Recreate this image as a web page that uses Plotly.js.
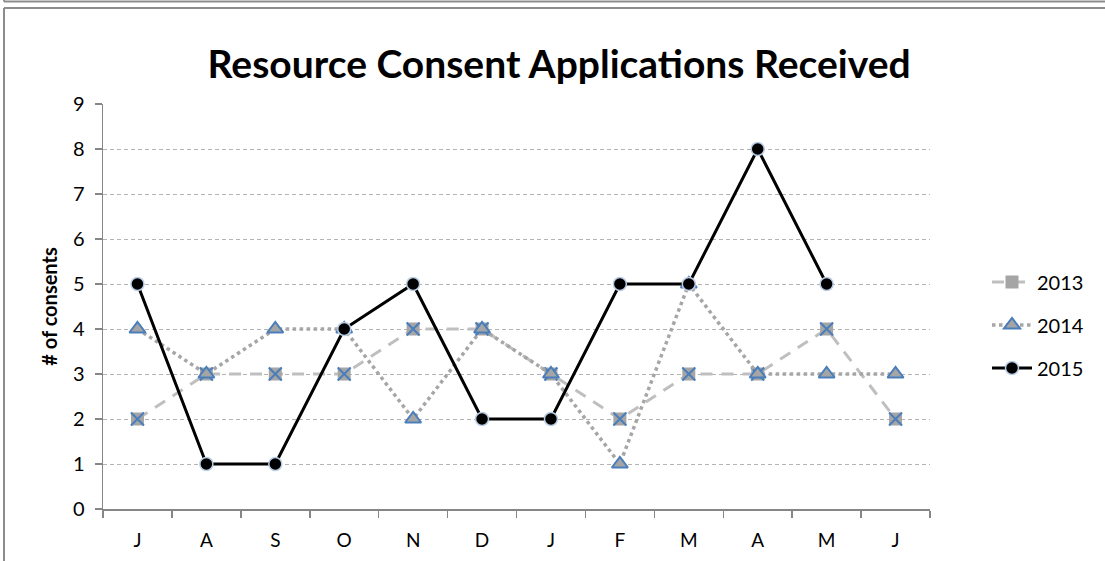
<!DOCTYPE html>
<html><head><meta charset="utf-8">
<script src="https://cdn.plot.ly/plotly-3.0.1.min.js"></script>
<style>html,body{margin:0;padding:0;background:#fff}#chart{width:1105px;height:561px}</style>
</head><body><div id="chart"></div>
<script>
const months = ['J','A','S','O','N','D','J','F','M','A','M','J'];
const s2013 = [2,3,3,3,4,4,3,2,3,3,4,2];
const s2014 = [4,3,4,4,2,4,3,1,5,3,3,3];
const s2015 = [5,1,1,4,5,2,2,5,5,8,5,null];
const seriesNames = ['2013','2014','2015'];

const idx = months.map((m,i)=>i);
const L=103,R=930,T=104,B=509,W=1105,H=561;
const px=x=>(x-L)/(R-L), py=y=>(B-y)/(B-T);

const traces = [
 {x:idx,y:s2013,name:seriesNames[0],mode:'lines+markers',legendgroup:'a',
  line:{color:'#bfbfbf',width:3,dash:'12px,9px'},
  marker:{symbol:'square',size:13,color:'#a5a5a5',line:{width:0}}},
 {x:idx,y:s2013,name:seriesNames[0],mode:'markers',legendgroup:'a',showlegend:false,hoverinfo:'skip',
  marker:{symbol:'x-thin-open',size:13,color:'#4a7ebb',line:{width:2,color:'#4a7ebb'}}},
 {x:idx,y:s2014,name:seriesNames[1],mode:'lines+markers',legendgroup:'b',
  line:{color:'#a6a6a6',width:3.5,dash:'dot'},
  marker:{symbol:'triangle-up',size:14,color:'#a5a5a5',line:{width:2,color:'#4a7ebb'}}},
 {x:idx,y:s2015,name:seriesNames[2],mode:'lines+markers',legendgroup:'c',connectgaps:false,
  line:{color:'#000000',width:3},
  marker:{symbol:'circle',size:13,color:'#000000',line:{width:1.5,color:'#b9cde5'}}}
];

const fr='#8c8c8c';
const shapes=[
 {type:'line',xref:'paper',yref:'paper',x0:px(4),x1:px(1106),y0:py(1.5),y1:py(1.5),line:{color:fr,width:2}},
 {type:'line',xref:'paper',yref:'paper',x0:px(4),x1:px(4),y0:py(-2),y1:py(1.5),line:{color:fr,width:2}},
 {type:'line',xref:'paper',yref:'paper',x0:px(4),x1:px(1106),y0:py(8),y1:py(8),line:{color:fr,width:2}},
 {type:'line',xref:'paper',yref:'paper',x0:px(4),x1:px(4),y0:py(8),y1:py(563),line:{color:fr,width:2}}
];

const layout = {
 width:W,height:H,margin:{l:L,r:W-R,t:T,b:H-B},
 paper_bgcolor:'#fff',plot_bgcolor:'#fff',
 font:{family:'Lato, sans-serif',color:'#000',size:20},
 title:{text:'<b>Resource Consent Applications Received</b>',font:{size:39,family:'Lato, sans-serif',color:'#000'},
  xref:'container',x:0.506,xanchor:'center',yref:'container',y:1-64/H,yanchor:'middle'},
 xaxis:{range:[-0.5,11.5],tickmode:'array',tickvals:idx,ticktext:months,ticks:'',showgrid:false,zeroline:false,
  showline:true,linecolor:'#868686',linewidth:1.5,tickfont:{size:19},ticklabelstandoff:14,
  minor:{tickmode:'linear',tick0:-0.5,dtick:1,ticks:'outside',ticklen:7,tickcolor:'#868686',tickwidth:1.5,showgrid:false}},
 yaxis:{range:[0,9],dtick:1,ticks:'outside',ticklen:7,tickcolor:'#868686',tickwidth:1.5,
  showline:true,linecolor:'#868686',linewidth:1.5,zeroline:false,ticklabelstandoff:6,
  showgrid:true,gridcolor:'#b3b3b3',griddash:'4px,3px',gridwidth:1,tickfont:{size:20},
  title:{text:'<b># of consents</b>',font:{size:20},standoff:10}},
 legend:{x:px(987),xanchor:'left',y:py(325),yanchor:'middle',font:{size:20},
  traceorder:'grouped',tracegroupgap:14,itemwidth:40,bgcolor:'rgba(0,0,0,0)'},
 shapes:shapes,
 showlegend:true
};
Plotly.newPlot('chart',traces,layout,{displayModeBar:false,staticPlot:true});
</script></body></html>
